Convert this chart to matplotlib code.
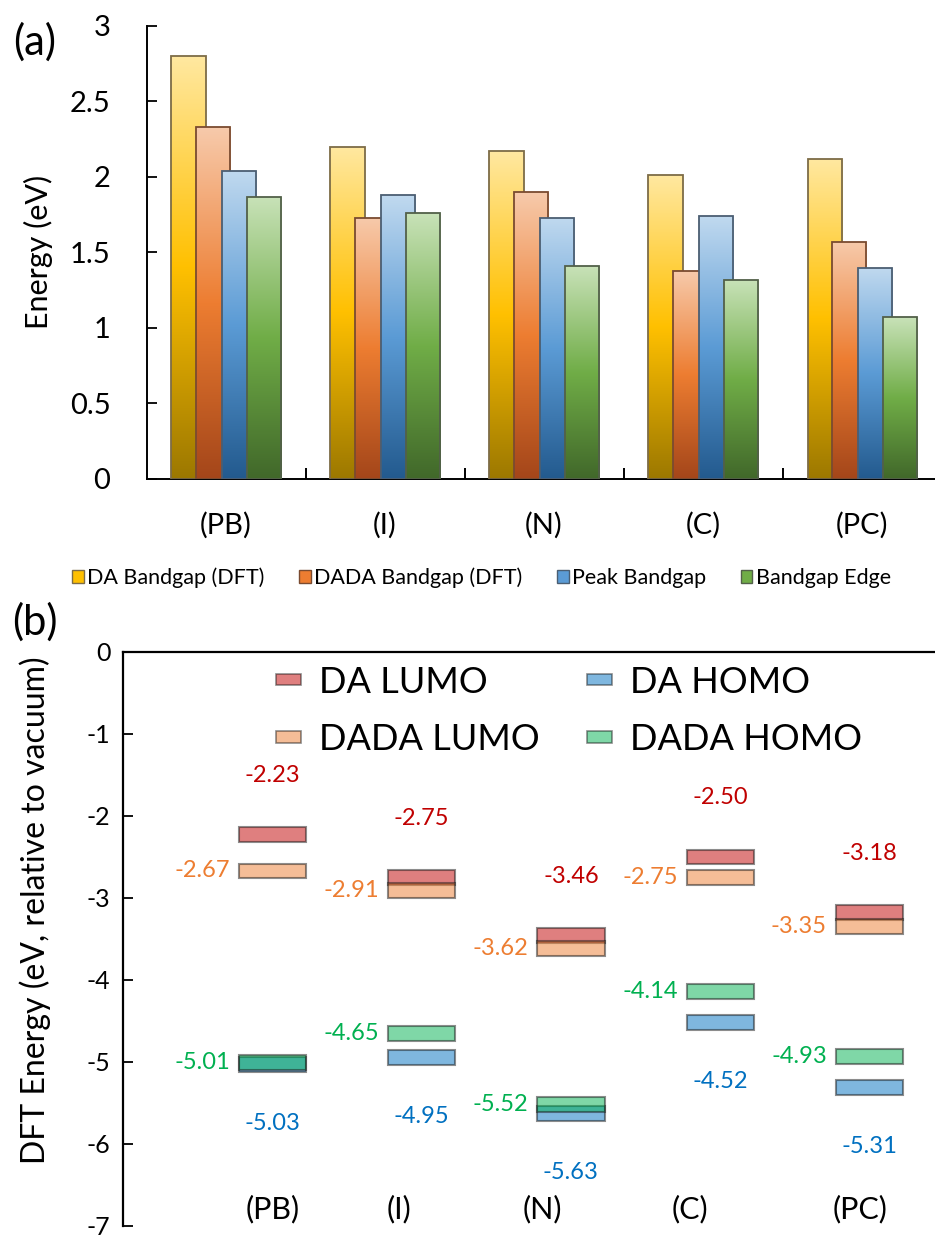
import numpy as np
import matplotlib
matplotlib.use('Agg')
import matplotlib.pyplot as plt
from matplotlib.colors import LinearSegmentedColormap
from matplotlib.patches import Patch
from matplotlib.ticker import FormatStrFormatter

plt.rcParams['font.family'] = ['Lato', 'DejaVu Sans']
plt.rcParams['axes.unicode_minus'] = False

# ---- data ----
molecules = ['(PB)', '(I)', '(N)', '(C)', '(PC)']

# panel (a): band gaps (eV)
gap_names = ['DA Bandgap (DFT)', 'DADA Bandgap (DFT)', 'Peak Bandgap', 'Bandgap Edge']
da_gap = [2.80, 2.20, 2.17, 2.01, 2.12]
dada_gap = [2.33, 1.73, 1.90, 1.38, 1.57]
peak_gap = [2.04, 1.88, 1.73, 1.74, 1.40]
edge_gap = [1.87, 1.76, 1.41, 1.32, 1.07]

# panel (b): frontier orbital energies (eV)
da_lumo = [-2.23, -2.75, -3.46, -2.50, -3.18]
dada_lumo = [-2.67, -2.91, -3.62, -2.75, -3.35]
dada_homo = [-5.01, -4.65, -5.52, -4.14, -4.93]
da_homo = [-5.03, -4.95, -5.63, -4.52, -5.31]

# gradient colours (bottom, middle, top) and outline per series
grad_cols = [['#9c7800', '#ffc000', '#ffe8a0'],
             ['#a4461a', '#ed7d31', '#f7caab'],
             ['#235a8e', '#5b9bd5', '#c0d9ef'],
             ['#41682a', '#70ad47', '#c8e2b8']]
grad_edge = ['#7d6c47', '#7a4b30', '#4b5e72', '#526049']

fig = plt.figure(figsize=(9.35, 12.35), dpi=100)

# ================= (a) =================
ax1 = fig.add_axes([0.1567, 0.6122, 0.8503, 0.3668])
series = [da_gap, dada_gap, peak_gap, edge_gap]
xs = np.arange(len(molecules))
w = 0.214
offs = [-0.236, -0.079, 0.079, 0.236]
grad = np.linspace(0, 1, 256).reshape(-1, 1)
for i, vals in enumerate(series):
    cmap = LinearSegmentedColormap.from_list('g%d' % i, grad_cols[i])
    for x, v in zip(xs, vals):
        xc = x + offs[i]
        im = ax1.imshow(grad, cmap=cmap, aspect='auto', origin='lower',
                        extent=(xc - w / 2, xc + w / 2, 0, v), zorder=2 + 2 * i)
        r = ax1.bar(xc, v, w, facecolor='none', edgecolor=grad_edge[i],
                    linewidth=1.3, zorder=3 + 2 * i)[0]
        im.set_clip_path(r)

ax1.set_xlim(-0.5, 4.5)
ax1.set_ylim(0, 3)
ax1.spines['top'].set_visible(False)
ax1.spines['right'].set_visible(False)
for s in ['left', 'bottom']:
    ax1.spines[s].set_linewidth(1.4)
ax1.set_xticks(xs)
ax1.set_xticklabels(molecules, fontsize=21)
ax1.set_xticks(np.arange(0.5, 4.5, 1), minor=True)
ax1.tick_params(axis='x', which='major', length=0, pad=24)
ax1.tick_params(axis='x', which='minor', direction='in', length=8, width=1.4)
ax1.set_yticks(np.arange(0, 3.01, 0.5))
ax1.yaxis.set_major_formatter(FormatStrFormatter('%g'))
ax1.tick_params(axis='y', direction='in', length=7, width=1.3, labelsize=21, pad=26)
ax1.set_ylabel('Energy (eV)', fontsize=22)
ax1.yaxis.set_label_coords(-0.118, 0.5)

leg_h = [Patch(facecolor=c[1], edgecolor=e, linewidth=1) for c, e in zip(grad_cols, grad_edge)]
fig.legend(leg_h, gap_names, ncol=4, loc='center', bbox_to_anchor=(0.515, 0.532),
           fontsize=15.5, frameon=False, handlelength=0.55, handleheight=0.55,
           handletextpad=0.15, columnspacing=1.6)

# ================= (b) =================
ax2 = fig.add_axes([0.1316, 0.0073, 0.958, 0.4648])
pos = np.arange(1, 6)
bw = 0.45
bh = 0.18
lvl = [(da_lumo, '#c00000', 'DA LUMO'),
       (dada_lumo, '#ed7d31', 'DADA LUMO'),
       (da_homo, '#0070c0', 'DA HOMO'),
       (dada_homo, '#00b050', 'DADA HOMO')]
handles = {}
for vals, col, name in lvl:
    ax2.bar(pos, [bh] * len(vals), bw, bottom=np.array(vals) - bh / 2,
            facecolor=col, alpha=0.5, edgecolor='#1a1a1a', linewidth=1.5, zorder=3)
    handles[name] = Patch(facecolor=col, alpha=0.5, edgecolor='#1a1a1a', linewidth=1.2)

for x, v in zip(pos, da_lumo):
    ax2.text(x, v + 0.72, '%.2f' % v, color='#c00000', fontsize=17, ha='center', va='center')
for x, v in zip(pos, da_homo):
    ax2.text(x, v - 0.72, '%.2f' % v, color='#0070c0', fontsize=17, ha='center', va='center')
for x, v in zip(pos, dada_lumo):
    ax2.text(x - bw / 2 - 0.06, v, '%.2f' % v, color='#ed7d31', fontsize=17, ha='right', va='center')
for x, v in zip(pos, dada_homo):
    ax2.text(x - bw / 2 - 0.06, v, '%.2f' % v, color='#00b050', fontsize=17, ha='right', va='center')

# category names sit low in the plot, placed by hand in the original
name_x = [1.0, 1.85, 2.81, 3.80, 4.94]
for x, lab in zip(name_x, molecules):
    ax2.text(x, -6.8, lab, fontsize=22, ha='center', va='center')

ax2.set_xlim(0, 6)
ax2.set_ylim(-7, 0)
ax2.spines['bottom'].set_visible(False)
ax2.spines['right'].set_visible(False)
for s in ['left', 'top']:
    ax2.spines[s].set_linewidth(1.6)
ax2.set_xticks([])
ax2.set_yticks(np.arange(-7, 1, 1))
ax2.tick_params(axis='y', direction='in', length=7, width=1.3, labelsize=18, pad=9)
ax2.set_ylabel('DFT Energy (eV, relative to vacuum)', fontsize=23)
ax2.yaxis.set_label_coords(-0.08, 0.55)

order = ['DA LUMO', 'DADA LUMO', 'DA HOMO', 'DADA HOMO']
ax2.legend([handles[k] for k in order], order, ncol=2, loc='upper left',
           bbox_to_anchor=(0.142, 1.02), frameon=False, fontsize=26,
           handlelength=0.7, handleheight=0.12, handletextpad=0.5,
           columnspacing=1.3, labelspacing=0.68, borderpad=0.2)

fig.text(0.037, 0.966, '(a)', fontsize=30, ha='center', va='center')
fig.text(0.037, 0.4964, '(b)', fontsize=30, ha='center', va='center')

fig.savefig('out.png', dpi=100)
